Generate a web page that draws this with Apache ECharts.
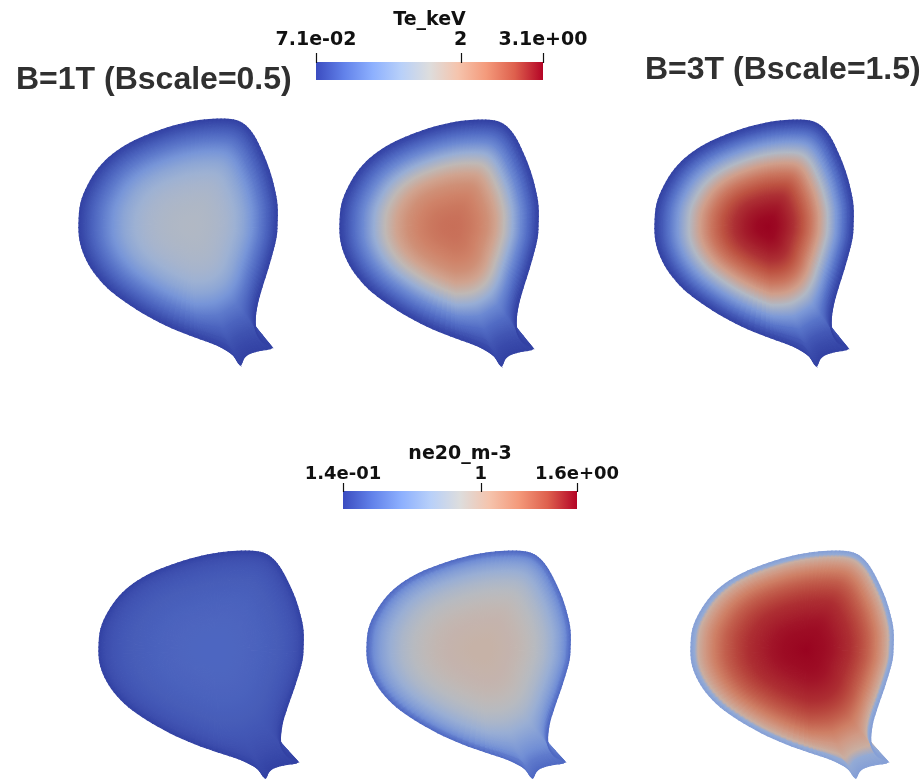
<!DOCTYPE html>
<html>
<head>
<meta charset="utf-8">
<script src="https://cdn.jsdelivr.net/npm/echarts@6/dist/echarts.min.js"></script>
<style>
  html, body { margin: 0; padding: 0; background: #ffffff; }
  #chart { width: 924px; height: 779px; }
</style>
</head>
<body>
<div id="chart"></div>
<script>
// ---- Data -----------------------------------------------------------------

// Normalised minor radius of the sampled flux surfaces (0 = magnetic axis, 1 = separatrix)
const rhoGrid = [0, 0.1, 0.2, 0.3, 0.4, 0.5, 0.6, 0.7, 0.8, 0.88, 0.94, 0.97, 1.0];

// Electron temperature profiles, keV
const teBscale05 = [1.45, 1.44, 1.42, 1.38, 1.32, 1.22, 1.05, 0.82, 0.55, 0.35, 0.21, 0.14, 0.071];
const teBscale10 = [2.50, 2.48, 2.43, 2.35, 2.22, 2.00, 1.65, 1.15, 0.70, 0.42, 0.24, 0.15, 0.071];
const teBscale15 = [3.10, 3.07, 2.99, 2.88, 2.72, 2.45, 2.05, 1.45, 0.88, 0.50, 0.27, 0.16, 0.071];

// Electron density profiles, 1e20 m^-3
const neBscale05 = [0.29, 0.29, 0.288, 0.285, 0.28, 0.272, 0.262, 0.25, 0.235, 0.215, 0.19, 0.17, 0.14];
const neBscale10 = [0.96, 0.96, 0.95, 0.94, 0.92, 0.89, 0.84, 0.77, 0.67, 0.57, 0.47, 0.38, 0.30];
const neBscale15 = [1.60, 1.59, 1.58, 1.56, 1.53, 1.50, 1.45, 1.37, 1.25, 1.12, 0.99, 0.64, 0.57];

// Colour-bar ranges and ticks
const teRange = [0.071, 3.1];
const teTicks = [0.071, 2, 3.1];
const teTickLabels = ['7.1e-02', '2', '3.1e+00'];
const neRange = [0.14, 1.6];
const neTicks = [0.14, 1, 1.6];
const neTickLabels = ['1.4e-01', '1', '1.6e+00'];

// Last closed flux surface (R, Z in metres) and magnetic axis
const boundaryR = [1.800, 1.800, 1.782, 1.752, 1.709, 1.661, 1.612, 1.564, 1.503, 1.412, 1.303, 1.170,
                   1.030, 0.909, 0.806, 0.721, 0.655, 0.612, 0.600, 0.606, 0.636, 0.691, 0.776, 0.885,
                   1.018, 1.164, 1.303, 1.418, 1.491, 1.539, 1.576, 1.600, 1.630, 1.685, 1.770, 1.715,
                   1.679, 1.667, 1.679, 1.709, 1.745, 1.776, 1.794];
const boundaryZ = [0.006, 0.127, 0.230, 0.339, 0.448, 0.545, 0.606, 0.636, 0.648, 0.648, 0.636, 0.606,
                   0.558, 0.503, 0.436, 0.352, 0.248, 0.139, 0.018, -0.085, -0.182, -0.279, -0.376, -0.461,
                   -0.545, -0.618, -0.673, -0.715, -0.752, -0.788, -0.842, -0.800, -0.776, -0.758, -0.739, -0.703,
                   -0.655, -0.582, -0.479, -0.370, -0.255, -0.145, -0.067];
const magAxis = [1.285, 0.0];

const caseLabels = ['B=1T (Bscale=0.5)', 'B=3T (Bscale=1.5)'];
const quantityNames = ['Te_keV', 'ne20_m-3'];

// ---- Geometry helpers -----------------------------------------------------

// Closed Catmull-Rom curve through a list of points
function smoothClosed(P, sub) {
  const n = P.length, out = [];
  for (let i = 0; i < n; i++) {
    const q = [P[(i - 1 + n) % n], P[i], P[(i + 1) % n], P[(i + 2) % n]];
    for (let s = 0; s < sub; s++) {
      const t = s / sub, t2 = t * t, t3 = t2 * t;
      const f = k => 0.5 * (2 * q[1][k] + (-q[0][k] + q[2][k]) * t +
        (2 * q[0][k] - 5 * q[1][k] + 4 * q[2][k] - q[3][k]) * t2 +
        (-q[0][k] + 3 * q[1][k] - 3 * q[2][k] + q[3][k]) * t3);
      out.push([f(0), f(1)]);
    }
  }
  return out;
}

const boundaryPts = boundaryR.map((r, i) => [r, boundaryZ[i]]);

// Closed core surfaces do not reach into the divertor neck: the neck section of the
// boundary (between the lower-left flank and the lower-right flank) is replaced by a
// rounded arc for the inner surfaces.
const NECK_FROM = 26, NECK_TO = 39;
const corePts = boundaryPts.map(p => p.slice());
(function () {
  const a = boundaryPts[NECK_FROM], b = boundaryPts[NECK_TO], ctrl = [1.62, -0.70];
  const m = NECK_TO - NECK_FROM;
  for (let k = 1; k < m; k++) {
    const t = k / m, u = 1 - t;
    corePts[NECK_FROM + k] = [u * u * a[0] + 2 * u * t * ctrl[0] + t * t * b[0],
                              u * u * a[1] + 2 * u * t * ctrl[1] + t * t * b[1]];
  }
})();

const SUB = 4;
const outerCurve = smoothClosed(boundaryPts, SUB);
const coreCurve = smoothClosed(corePts, SUB);

// Surface at normalised radius rho: the neck only opens up close to the separatrix
function surfaceAt(rho) {
  const w = Math.pow(rho, 10);
  return outerCurve.map((p, i) => {
    const q = coreCurve[i];
    const x = q[0] + w * (p[0] - q[0]), y = q[1] + w * (p[1] - q[1]);
    return [magAxis[0] + rho * (x - magAxis[0]), magAxis[1] + rho * (y - magAxis[1])];
  });
}

// ---- Styling helpers ------------------------------------------------------

// Diverging cool-to-warm colour map
const palette = ['#3b4cc0', '#6282ea', '#8db0fe', '#b8d0f9', '#dddddd',
                 '#f5c4ad', '#f49a7b', '#de604d', '#b40426'];
// Surface lighting dims the rendered cross-sections slightly
const SURFACE_SHADE = 0.85;

function colorOf(v, range, shade) {
  const t = Math.min(1, Math.max(0, (v - range[0]) / (range[1] - range[0])));
  const c = echarts.color.parse(echarts.color.lerp(t, palette));
  return 'rgb(' + Math.round(c[0] * shade) + ',' + Math.round(c[1] * shade) + ',' +
         Math.round(c[2] * shade) + ')';
}

// One cross-section: each item is the shell between two sampled flux surfaces,
// shaded from the inner value to the outer value.
function crossSection(profile, range, axisIndex) {
  const data = [];
  for (let k = 0; k < rhoGrid.length - 1; k++) {
    data.push([rhoGrid[k], profile[k], rhoGrid[k + 1], profile[k + 1]]);
  }
  return {
    type: 'custom',
    coordinateSystem: 'cartesian2d',
    xAxisIndex: axisIndex,
    yAxisIndex: axisIndex,
    silent: true,
    animation: false,
    data: data,
    renderItem: function (params, api) {
      const cIn = colorOf(api.value(1), range, SURFACE_SHADE);
      const cOut = colorOf(api.value(3), range, SURFACE_SHADE);
      const A = surfaceAt(api.value(0)).map(p => api.coord(p));
      const B = surfaceAt(api.value(2)).map(p => api.coord(p));
      const children = [];
      for (let i = 0; i < A.length; i++) {
        const j = (i + 1) % A.length;
        const m0 = [(A[i][0] + A[j][0]) / 2, (A[i][1] + A[j][1]) / 2];
        const m1 = [(B[i][0] + B[j][0]) / 2, (B[i][1] + B[j][1]) / 2];
        const grad = {
          type: 'linear', x: m0[0], y: m0[1], x2: m1[0], y2: m1[1], global: true,
          colorStops: [{ offset: 0, color: cIn }, { offset: 1, color: cOut }]
        };
        children.push({
          type: 'polygon',
          shape: { points: [A[i], A[j], B[j], B[i]] },
          style: { fill: grad, stroke: grad, lineWidth: 1.2 }
        });
      }
      return { type: 'group', children: children };
    }
  };
}

// Colour bar drawn over its own value axis
function colorBar(range, axisIndex) {
  return {
    type: 'custom',
    coordinateSystem: 'cartesian2d',
    xAxisIndex: axisIndex,
    yAxisIndex: axisIndex,
    silent: true,
    animation: false,
    data: [[range[0], range[1]]],
    renderItem: function (params, api) {
      const p0 = api.coord([api.value(0), 1]);
      const p1 = api.coord([api.value(1), 0]);
      return {
        type: 'rect',
        shape: { x: p0[0], y: p0[1], width: p1[0] - p0[0], height: p1[1] - p0[1] },
        style: {
          fill: {
            type: 'linear', x: 0, y: 0, x2: 1, y2: 0,
            colorStops: palette.map((col, i) => ({ offset: i / (palette.length - 1), color: col }))
          }
        }
      };
    }
  };
}

// Tick marks rising from the top edge of a colour bar
function colorBarTicks(ticks, axisIndex, length) {
  return {
    type: 'custom',
    coordinateSystem: 'cartesian2d',
    xAxisIndex: axisIndex,
    yAxisIndex: axisIndex,
    silent: true,
    animation: false,
    data: ticks.map(v => [v, 1]),
    renderItem: function (params, api) {
      const p = api.coord([api.value(0), api.value(1)]);
      const x = Math.round(p[0]) + 0.5;
      return {
        type: 'line',
        shape: { x1: x, y1: p[1] + 1, x2: x, y2: p[1] - length },
        style: { stroke: '#111111', lineWidth: 1.2 }
      };
    }
  };
}

function labelFor(ticks, labels) {
  return function (v) {
    let best = 0;
    for (let i = 1; i < ticks.length; i++) {
      if (Math.abs(ticks[i] - v) < Math.abs(ticks[best] - v)) best = i;
    }
    return labels[best];
  };
}

const barFont = { fontFamily: 'DejaVu Sans', fontWeight: 'bold', color: '#111111' };

function barXAxis(gridIndex, range, ticks, labels, name, labelSize, labelMargin, nameSize, nameGap) {
  return {
    gridIndex: gridIndex, type: 'value', min: range[0], max: range[1], position: 'top',
    axisLine: { show: false },
    splitLine: { show: false },
    axisTick: { show: false },
    axisLabel: Object.assign({ customValues: ticks, formatter: labelFor(ticks, labels),
      margin: labelMargin, fontSize: labelSize, showMinLabel: true, showMaxLabel: true }, barFont),
    name: name, nameLocation: 'middle', nameGap: nameGap,
    nameTextStyle: Object.assign({ fontSize: nameSize }, barFont)
  };
}

function hiddenAxis(gridIndex, min, max) {
  return { gridIndex: gridIndex, type: 'value', min: min, max: max, show: false };
}

// ---- Layout ---------------------------------------------------------------
const grids = [
  { left: 316, top: 62, width: 227, height: 18 },    // Te colour bar
  { left: 343, top: 491, width: 234, height: 18 },   // ne colour bar
  { left: 79, top: 119, width: 198, height: 247 },   // Te, Bscale 0.5
  { left: 340, top: 120, width: 198, height: 247 },  // Te, Bscale 1.0
  { left: 655, top: 120, width: 198, height: 247 },  // Te, Bscale 1.5
  { left: 99, top: 551, width: 204, height: 228 },   // ne, Bscale 0.5
  { left: 367, top: 551, width: 203, height: 228 },  // ne, Bscale 1.0
  { left: 691, top: 551, width: 202, height: 228 }   // ne, Bscale 1.5
];

const xAxes = [
  barXAxis(0, teRange, teTicks, teTickLabels, quantityNames[0], 19, 12, 19, 32),
  barXAxis(1, neRange, neTicks, neTickLabels, quantityNames[1], 18, 8, 19, 27)
];
const yAxes = [hiddenAxis(0, 0, 1), hiddenAxis(1, 0, 1)];
for (let g = 2; g < grids.length; g++) {
  xAxes.push(hiddenAxis(g, 0.6, 1.8));
  yAxes.push(hiddenAxis(g, -0.85, 0.65));
}

const chart = echarts.init(document.getElementById('chart'), null, { renderer: 'canvas' });
chart.setOption({
  animation: false,
  backgroundColor: '#ffffff',
  grid: grids.map(g => Object.assign({ containLabel: false, show: false }, g)),
  xAxis: xAxes,
  yAxis: yAxes,
  series: [
    colorBar(teRange, 0),
    colorBar(neRange, 1),
    colorBarTicks(teTicks, 0, 9),
    colorBarTicks(neTicks, 1, 8),
    crossSection(teBscale05, teRange, 2),
    crossSection(teBscale10, teRange, 3),
    crossSection(teBscale15, teRange, 4),
    crossSection(neBscale05, neRange, 5),
    crossSection(neBscale10, neRange, 6),
    crossSection(neBscale15, neRange, 7)
  ],
  graphic: [
    { type: 'text', x: 16, y: 80, silent: true,
      style: { text: caseLabels[0], fontFamily: 'Liberation Sans', fontWeight: 'bold', fontSize: 32,
               fill: '#303030', textAlign: 'left', textVerticalAlign: 'middle' } },
    { type: 'text', x: 645, y: 70, silent: true,
      style: { text: caseLabels[1], fontFamily: 'Liberation Sans', fontWeight: 'bold', fontSize: 32,
               fill: '#303030', textAlign: 'left', textVerticalAlign: 'middle' } }
  ]
});
</script>
</body>
</html>
